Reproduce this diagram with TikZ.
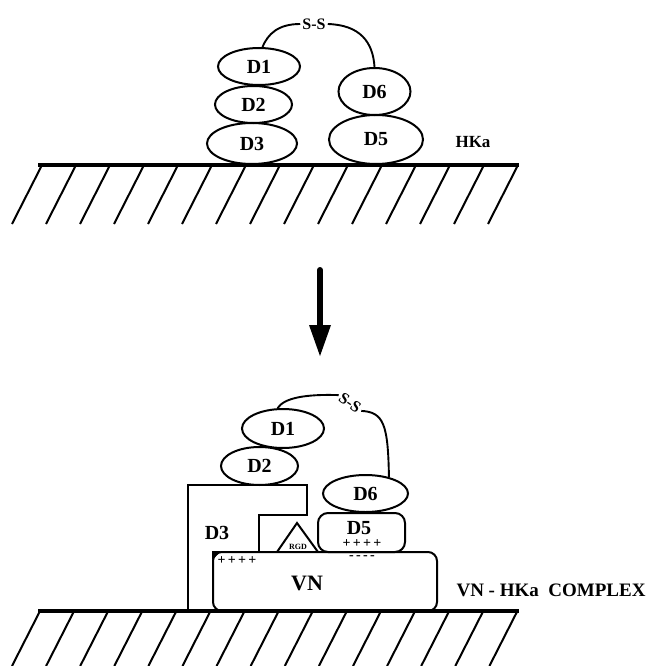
\documentclass[tikz,border=0pt]{standalone}
\usepackage{fontspec}
\setmainfont{Liberation Serif}
\usetikzlibrary{shapes.geometric}

\tikzset{
  dom/.style={draw, ellipse, line width=2pt, inner sep=0pt,
    font=\fontsize{20}{20}\selectfont\bfseries},
  domlbl/.style={inner sep=0pt, font=\fontsize{20}{20}\selectfont\bfseries},
  smalllbl/.style={inner sep=0pt, font=\fontsize{14}{14}\selectfont\bfseries},
  tinylbl/.style={inner sep=0pt, font=\fontsize{8}{8}\selectfont\bfseries},
  sslbl/.style={inner sep=2pt, font=\fontsize{16}{16}\selectfont\bfseries},
  biglbl/.style={inner sep=0pt, font=\fontsize{19}{19}\selectfont\bfseries},
  boxline/.style={line width=2pt, line join=miter},
  link/.style={line width=1.9pt},
  ground/.style={line width=3.4pt},
  hatch/.style={line width=2pt}
}

\begin{document}
\begin{tikzpicture}[x=1pt,y=-1pt]
\useasboundingbox (0,0) rectangle (647,666);

% ---------- free kininogen on the surface ----------
\draw[ground] (38,165) -- (519,165);
\foreach \i in {0,...,14} {
  \draw[hatch] ({42+34*\i},165) -- ++(-30,59);
}

\node[dom, minimum width=82, minimum height=37] (ta) at (259,66.5) {D1};
\node[dom, minimum width=77, minimum height=37] (tb) at (253.5,104.5) {D2};
\node[dom, minimum width=90, minimum height=41] (tc) at (252,143.5) {D3};
\node[dom, minimum width=72, minimum height=47] (tf) at (374.5,91.5) {D6};
\node[dom, minimum width=94, minimum height=49] (te) at (376,139.5) {D5};

\node[sslbl] (tss) at (314,24) {S-S};
\draw[link] (ta.80) .. controls (268,34) and (278,24) .. (tss.west);
\draw[link] (tss.east) .. controls (360,25) and (373,42) .. (tf.north);

\node[biglbl, font=\fontsize{17}{17}\selectfont\bfseries] (hka) at (473,142) {HKa};

% ---------- transition arrow ----------
\coordinate (arrtop) at (320,270);
\coordinate (arrbase) at (320,327);
\draw[line width=6pt, line cap=round] (arrtop) -- (arrbase);
\fill (309,325) -- (331,325) -- (320,356) -- cycle;

% ---------- complex with vitronectin ----------
\draw[ground] (38,611) -- (519,611);
\foreach \i in {0,...,14} {
  \draw[hatch] ({40+34.1*\i},611) -- ++(-28,55);
}

% vitronectin block
\node[draw, boxline, rounded corners=9pt, minimum width=224, minimum height=59,
      inner sep=0pt] (vn) at (325,581.5) {};
\fill (vn.north west) -- ++(9,0) -- ++(-9,9) -- cycle;
\node[biglbl, font=\fontsize{22}{22}\selectfont\bfseries] (vnlbl) at (307,583) {VN};
\node[smalllbl] (vnplus) at (237,561) {+\,+\,+\,+};

% domain 3 wrapped over the block
\draw[boxline] (188,611) -- (188,485) -- (307,485) -- (307,515)
  -- (259,515) -- (259,552);
\node[domlbl] (bclbl) at (217,533) {D3};

% RGD site
\draw[boxline] (277,552) -- (297,523) -- (318,552);
\node[tinylbl] (rgd) at (298,547) {RGD};

% domain 5 block
\node[draw, boxline, rounded corners=10pt, minimum width=87, minimum height=39,
      inner sep=0pt] (be) at (361.5,532.5) {};
\node[domlbl] (belbl) at (359,528) {D5};
\node[smalllbl] (beplus) at (362,544) {+\,+\,+\,+};
\node[smalllbl] (beminus) at (362,558) {-\,-\,-\,-};

\node[dom, minimum width=82, minimum height=39] (ba) at (283,428.5) {D1};
\node[dom, minimum width=77, minimum height=38] (bb) at (259.5,466) {D2};
\node[dom, minimum width=85, minimum height=37] (bf) at (365.5,493.5) {D6};

\node[sslbl, rotate=-35] (bss) at (350,403) {S-S};
\draw[link] (ba.105) .. controls (284,398) and (305,394) .. (bss.west);
\draw[link] (bss.east) .. controls (384,412) and (388,425) .. (bf.35);

\node[biglbl] (cplx) at (551,590) {VN - HKa\ \ COMPLEX};

\end{tikzpicture}
\end{document}
